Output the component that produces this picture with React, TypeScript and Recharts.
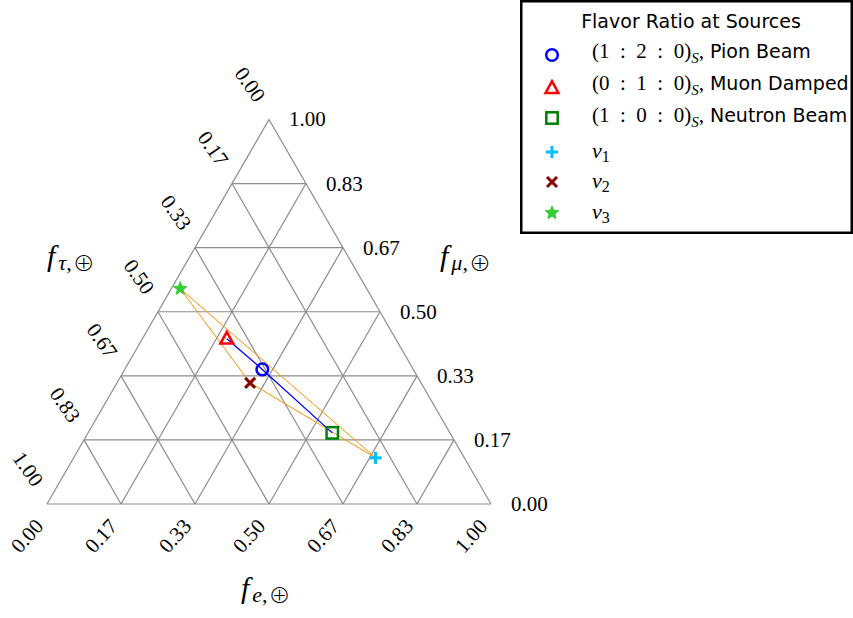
import React from 'react';
import { ScatterChart, Scatter, XAxis, YAxis, ReferenceLine, Legend } from 'recharts';

// ---------- data ----------
const TICK_VALUES = [0, 1 / 6, 2 / 6, 3 / 6, 4 / 6, 5 / 6, 1];
const TICK_LABELS = ['0.00', '0.17', '0.33', '0.50', '0.67', '0.83', '1.00'];

// flavor fractions at Earth: [f_e, f_mu, f_tau]
const PION_BEAM = [0.31, 0.35, 0.34];
const MUON_DAMPED = [0.19, 0.43, 0.38];
const NEUTRON_BEAM = [0.55, 0.185, 0.265];
const NU_1 = [0.68, 0.12, 0.2];
const NU_2 = [0.3, 0.315, 0.385];
const NU_3 = [0.02, 0.56, 0.42];

const SOURCE_RATIOS = [['1', '2', '0'], ['0', '1', '0'], ['1', '0', '0']];
const SOURCE_NAMES = ['Pion Beam', 'Muon Damped', 'Neutron Beam'];
const EIGEN_NAMES = ['1', '2', '3'];
const LEGEND_TITLE = 'Flavor Ratio at Sources';

// ---------- layout ----------
const W = 853;
const H = 618;
const PX = 444; // pixels per unit side
const OX = 47;
const OY = 504;
const X_DOMAIN = [-OX / PX, (W - OX) / PX];
const Y_DOMAIN = [-(H - OY) / PX, OY / PX];
const SQ3 = Math.sqrt(3);

const MATH = "'Liberation Serif', 'DejaVu Serif', serif";
const SANS = "'DejaVu Sans', 'Liberation Sans', sans-serif";
const OPLUS_FONT = "'Noto Sans CJK SC', 'DejaVu Serif', serif";
const GRID = '#8c8c8c';
const SP = '\u2002';

const toXY = (fe: number, fmu: number) => ({ x: fe + fmu / 2, y: (fmu * SQ3) / 2 });
const pt = (v: number[]) => toXY(v[0], v[1]);

// grid segments
const gridSegs: { a: any; b: any }[] = [];
TICK_VALUES.slice(1, 6).forEach((v) => {
  gridSegs.push({ a: toXY(0, v), b: toXY(1 - v, v) }); // const f_mu
  gridSegs.push({ a: toXY(v, 0), b: toXY(v, 1 - v) }); // const f_e
  gridSegs.push({ a: toXY(1 - v, 0), b: toXY(0, 1 - v) }); // const f_tau
});
const borderSegs = [
  { a: toXY(0, 0), b: toXY(1, 0) },
  { a: toXY(1, 0), b: toXY(0, 1) },
  { a: toXY(0, 1), b: toXY(0, 0) },
];

const leftTicks = TICK_VALUES.map((t, i) => ({ ...toXY(0, 1 - t), label: TICK_LABELS[i] }));
const rightTicks = TICK_VALUES.map((m, i) => ({ ...toXY(1 - m, m), label: TICK_LABELS[i] }));
const bottomTicks = TICK_VALUES.map((e, i) => ({ ...toXY(e, 0), label: TICK_LABELS[i] }));

const titles = [
  { ...toXY(0.5, 0), sub: 'e', dx: -28, dy: 94 },
  { ...toXY(0, 0.5), sub: 'τ', dx: -111, dy: -46 },
  { ...toXY(0.5, 0.5), sub: 'μ', dx: 60, dy: -46 },
];

const orangeLoop = [pt(NU_3), pt(NU_1), pt(NU_2), pt(NU_3)];
const blueLine = [pt(MUON_DAMPED), pt(PION_BEAM), pt(NEUTRON_BEAM)];

// ---------- markers ----------
const starPts = (cx: number, cy: number, R: number, r: number) => {
  const a: string[] = [];
  for (let i = 0; i < 10; i++) {
    const ang = ((-90 + i * 36) * Math.PI) / 180;
    const rad = i % 2 ? r : R;
    a.push(`${cx + rad * Math.cos(ang)},${cy + rad * Math.sin(ang)}`);
  }
  return a.join(' ');
};

const drawMarker = (kind: string, cx: number, cy: number) => {
  switch (kind) {
    case 'circle':
      return <circle cx={cx} cy={cy} r={5.8} fill="none" stroke="#0000ff" strokeWidth={2.5} />;
    case 'triangle':
      return (
        <polygon
          points={`${cx},${cy - 6.8} ${cx - 6.4},${cy + 4.9} ${cx + 6.4},${cy + 4.9}`}
          fill="none"
          stroke="#ff0000"
          strokeWidth={2.5}
          strokeLinejoin="miter"
        />
      );
    case 'square':
      return <rect x={cx - 5.7} y={cy - 5.7} width={11.4} height={11.4} fill="none" stroke="#008000" strokeWidth={2.5} />;
    case 'plus':
      return (
        <g stroke="#00bfff" strokeWidth={3}>
          <line x1={cx - 6} y1={cy} x2={cx + 6} y2={cy} />
          <line x1={cx} y1={cy - 6} x2={cx} y2={cy + 6} />
        </g>
      );
    case 'x':
      return (
        <g stroke="#8b0000" strokeWidth={3}>
          <line x1={cx - 5} y1={cy - 5} x2={cx + 5} y2={cy + 5} />
          <line x1={cx - 5} y1={cy + 5} x2={cx + 5} y2={cy - 5} />
        </g>
      );
    case 'star':
      return <polygon points={starPts(cx, cy, 7, 3)} fill="#32cd32" stroke="#32cd32" strokeWidth={1} />;
    default:
      return <g />;
  }
};

const series = [
  { key: 'pion', data: [pt(PION_BEAM)], kind: 'circle' },
  { key: 'muon', data: [pt(MUON_DAMPED)], kind: 'triangle' },
  { key: 'neutron', data: [pt(NEUTRON_BEAM)], kind: 'square' },
  { key: 'nu1', data: [pt(NU_1)], kind: 'plus' },
  { key: 'nu2', data: [pt(NU_2)], kind: 'x' },
  { key: 'nu3', data: [pt(NU_3)], kind: 'star' },
];

// ---------- legend ----------
const renderLegend = () => {
  const markerY = [55, 88, 118, 152, 182, 213];
  const textY = [58, 90, 122, 158, 188, 219];
  const kinds = ['circle', 'triangle', 'square', 'plus', 'x', 'star'];
  return (
    <svg width={333} height={235} style={{ display: 'block' }}>
      <rect x={1.25} y={1.25} width={330.5} height={231.5} fill="#ffffff" stroke="#000000" strokeWidth={2.5} />
      <text x={171} y={28} textAnchor="middle" fontFamily={SANS} fontSize={19} fill="#000">
        {LEGEND_TITLE}
      </text>
      {kinds.map((k, i) => (
        <g key={k}>{drawMarker(k, 32, markerY[i])}</g>
      ))}
      {SOURCE_RATIOS.map((r, i) => (
        <text key={'r' + i} x={72} y={textY[i]} fill="#000" style={{ whiteSpace: 'pre' }}>
          <tspan fontFamily={MATH} fontSize={21}>{`(${r[0]}${SP}:${SP}${r[1]}${SP}:${SP}${r[2]})`}</tspan>
          <tspan fontFamily={MATH} fontStyle="italic" fontSize={15} dy={5}>S</tspan>
          <tspan fontFamily={MATH} fontSize={21} dy={-5}>,</tspan>
          <tspan fontFamily={SANS} fontSize={19}>{' ' + SOURCE_NAMES[i]}</tspan>
        </text>
      ))}
      {EIGEN_NAMES.map((n, i) => (
        <text key={n} x={72} y={textY[3 + i]} fill="#000">
          <tspan fontFamily={MATH} fontStyle="italic" fontSize={22}>ν</tspan>
          <tspan fontFamily={MATH} fontSize={16} dy={4}>{n}</tspan>
        </text>
      ))}
    </svg>
  );
};

// ---------- label shapes ----------
const tickShape = (dx: number, dy: number, rot: number, anchor: string) => (props: any) => {
  const { cx, cy, payload } = props;
  const x = cx + dx;
  const y = cy + dy;
  return (
    <text
      x={x}
      y={y}
      textAnchor={anchor}
      dominantBaseline="central"
      fontFamily={MATH}
      fontSize={21}
      fill="#000"
      transform={rot ? `rotate(${rot}, ${x}, ${y})` : undefined}
    >
      {payload.label}
    </text>
  );
};

const titleShape = (props: any) => {
  const { cx, cy, payload } = props;
  return (
    <text x={cx + payload.dx} y={cy + payload.dy} fontFamily={MATH} fill="#000">
      <tspan fontStyle="italic" fontSize={30}>f</tspan>
      <tspan fontStyle="italic" fontSize={22} dx={3} dy={4}>{payload.sub}</tspan>
      <tspan fontSize={22}>,</tspan>
      <tspan fontSize={22} dx={1} dy={1} fontFamily={OPLUS_FONT} fontWeight={300}>⊕</tspan>
    </text>
  );
};

const emptyShape = () => <g />;

export default function App() {
  return (
    <div style={{ position: 'absolute', left: 0, top: 0, width: W, height: H, background: '#fff' }}>
      <ScatterChart width={W} height={H} margin={{ top: 0, right: 0, bottom: 0, left: 0 }}>
        <XAxis type="number" dataKey="x" domain={X_DOMAIN} hide allowDataOverflow />
        <YAxis type="number" dataKey="y" domain={Y_DOMAIN} hide allowDataOverflow />
        {gridSegs.map((s, i) => (
          <ReferenceLine
            key={'g' + i}
            segment={[s.a, s.b]}
            stroke={GRID}
            strokeWidth={1.2}
            ifOverflow="visible"
          />
        ))}
        {borderSegs.map((s, i) => (
          <ReferenceLine
            key={'b' + i}
            segment={[s.a, s.b]}
            stroke={GRID}
            strokeWidth={1.2}
            ifOverflow="visible"
          />
        ))}
        <Scatter
          data={orangeLoop}
          line={{ stroke: '#ff9000', strokeWidth: 1 }}
          lineType="joint"
          shape={emptyShape}
          isAnimationActive={false}
        />
        <Scatter
          data={blueLine}
          line={{ stroke: '#0000ff', strokeWidth: 1.3 }}
          lineType="joint"
          shape={emptyShape}
          isAnimationActive={false}
        />
        {series.map((s) => (
          <Scatter
            key={s.key}
            name={s.key}
            data={s.data}
            shape={(p: any) => drawMarker(s.kind, p.cx, p.cy)}
            isAnimationActive={false}
          />
        ))}
        <Scatter data={leftTicks} shape={tickShape(-19, -35, 55, 'middle')} isAnimationActive={false} />
        <Scatter data={rightTicks} shape={tickShape(20, 0, 0, 'start')} isAnimationActive={false} />
        <Scatter data={bottomTicks} shape={tickShape(-20, 32, -48, 'middle')} isAnimationActive={false} />
        <Scatter data={titles} shape={titleShape} isAnimationActive={false} />
        <Legend
          layout="vertical"
          align="center"
          verticalAlign="middle"
          wrapperStyle={{ left: 520, top: 0, width: 333, height: 235 }}
          content={renderLegend}
        />
      </ScatterChart>
    </div>
  );
}
